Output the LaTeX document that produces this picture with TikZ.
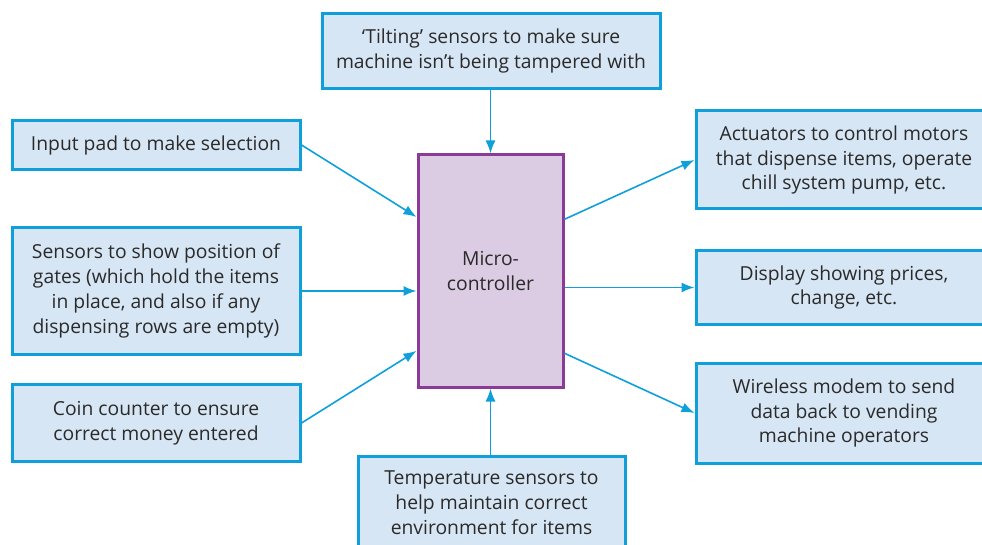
\documentclass[tikz,border=0pt]{standalone}
\usepackage{fontspec}
\setmainfont{Open Sans}
\usetikzlibrary{arrows.meta,calc}
\definecolor{bborder}{HTML}{0FA0DC}
\definecolor{bfill}{HTML}{D7E6F4}
\definecolor{mfill}{HTML}{DBCBE3}
\definecolor{mborder}{HTML}{8B3A97}
\definecolor{txt}{HTML}{2A2A2A}
\tikzset{
  info/.style={draw=bborder, fill=bfill, line width=3pt, align=center, text=txt,
    font=\fontsize{19.3}{24.8}\selectfont, inner sep=0pt},
  mc/.style={draw=mborder, fill=mfill, line width=3pt, align=center, text=txt,
    font=\fontsize{19.3}{24.8}\selectfont, inner sep=0pt},
  conn/.style={draw=bborder, line width=1.6pt, -{Latex[length=13pt,width=10pt]}}
}
\begin{document}
\begin{tikzpicture}[x=1pt,y=-1pt]
\useasboundingbox (0,0) rectangle (982,545);
\clip (0,0) rectangle (982,545);
\node[info, minimum width=338pt, minimum height=75pt] (tilt) at (491,51)
  {‘Tilting’ sensors to make sure\\machine isn’t being tampered with};
\node[info, minimum width=288pt, minimum height=49pt] (input) at (156,145)
  {Input pad to make selection};
\node[info, minimum width=288pt, minimum height=127pt] (gates) at (156,291)
  {Sensors to show position of\\gates (which hold the items\\in place, and also if any\\dispensing rows are empty)};
\node[info, minimum width=288pt, minimum height=77pt] (coin) at (156,423)
  {Coin counter to ensure\\correct money entered};
\node[mc, minimum width=145pt, minimum height=232pt] (micro) at (490.5,271)
  {Micro-\\controller};
\node[info, minimum width=296pt, minimum height=98pt] (act) at (844,160)
  {Actuators to control motors\\that dispense items, operate\\chill system pump, etc.};
\node[info, minimum width=296pt, minimum height=73pt] (disp) at (844,287.5)
  {Display showing prices,\\change, etc.};
\node[info, minimum width=296pt, minimum height=100pt] (wifi) at (844,413)
  {Wireless modem to send\\data back to vending\\machine operators};
\node[info, minimum width=267pt, minimum height=94pt] (temp) at (491.5,503)
  {Temperature sensors to\\help maintain correct\\environment for items};
\draw[conn] (tilt.south -| micro.north) -- (micro.north);
\draw[conn] (temp.north -| micro.south) -- (micro.south);
\draw[conn] (input.east) -- ($(micro.north west)!0.27!(micro.south west)$);
\draw[conn] (gates.east) -- (micro.west |- gates.east);
\draw[conn] (coin.east) -- ($(micro.north west)!0.84!(micro.south west)$);
\draw[conn] ($(micro.north east)!0.28!(micro.south east)$) -- (act.west);
\draw[conn] (micro.east |- disp.west) -- (disp.west);
\draw[conn] ($(micro.north east)!0.85!(micro.south east)$) -- (wifi.west);
\end{tikzpicture}
\end{document}
